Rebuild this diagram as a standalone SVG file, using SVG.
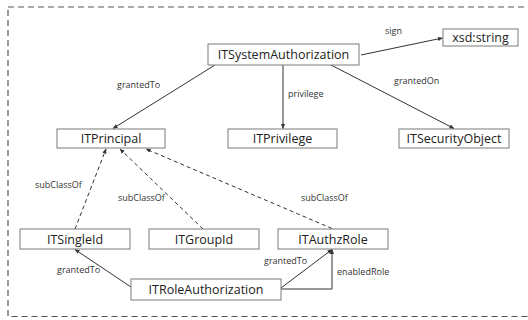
<svg xmlns="http://www.w3.org/2000/svg" width="528" height="320" viewBox="0 0 528 320">
  <style>
    .box { fill: #ffffff; stroke: #7a7a7a; stroke-width: 1; }
    .name { font-family: "Open Sans", "Liberation Sans", sans-serif; font-size: 12.5px; fill: #222; text-anchor: middle; dominant-baseline: central; }
    .lbl { font-family: "Open Sans", "Liberation Sans", sans-serif; font-size: 9px; fill: #333; }
    .edge { fill: none; stroke: #333; stroke-width: 1; marker-end: url(#head); }
    .sub { stroke-dasharray: 4 3; }
    .frame { fill: none; stroke: #555; stroke-width: 1.2; stroke-dasharray: 6 4; }
  </style>
  <defs>
    <marker id="head" viewBox="0 0 6 6" refX="5.5" refY="3" markerWidth="5" markerHeight="5" orient="auto" markerUnits="userSpaceOnUse">
      <path d="M0,0.5 L6,3 L0,5.5 Z" fill="#333"/>
    </marker>
  </defs>
  <rect width="528" height="320" fill="#ffffff"/>
  <rect class="frame" x="8" y="7" width="530" height="309.5"/>

  <g id="connectors">
    <line class="edge" x1="215" y1="65" x2="113" y2="128.5"/>
    <line class="edge" x1="283" y1="65" x2="283" y2="128.5"/>
    <line class="edge" x1="331" y1="65" x2="454" y2="128.5"/>
    <line class="edge" x1="361" y1="55" x2="442.5" y2="38"/>
    <line class="edge sub" x1="75" y1="229" x2="106" y2="149"/>
    <line class="edge sub" x1="203" y1="229" x2="120" y2="149"/>
    <line class="edge sub" x1="332" y1="228.5" x2="146" y2="149"/>
    <line class="edge" x1="131" y1="287" x2="75" y2="249.5"/>
    <line class="edge" x1="281" y1="288" x2="332" y2="249.5"/>
    <polyline class="edge" points="281,289 332,289 332,249.5"/>
    <text class="lbl" x="117" y="88">grantedTo</text>
    <text class="lbl" x="288" y="97">privilege</text>
    <text class="lbl" x="394" y="84">grantedOn</text>
    <text class="lbl" x="385" y="34">sign</text>
    <text class="lbl" x="35" y="188">subClassOf</text>
    <text class="lbl" x="118" y="201">subClassOf</text>
    <text class="lbl" x="301" y="201">subClassOf</text>
    <text class="lbl" x="57" y="273">grantedTo</text>
    <text class="lbl" x="264" y="264">grantedTo</text>
    <text class="lbl" x="337" y="275">enabledRole</text>
  </g>

  <g id="ITSystemAuthorization">
    <rect class="box" x="208" y="44" width="151" height="21"/>
    <text class="name" x="283.5" y="54.5">ITSystemAuthorization</text>
  </g>
  <g id="xsd-string">
    <rect class="box" x="443" y="29" width="75" height="17"/>
    <text class="name" x="480.5" y="37.5">xsd:string</text>
  </g>
  <g id="ITPrincipal">
    <rect class="box" x="57" y="129" width="108" height="19"/>
    <text class="name" x="111" y="138.5">ITPrincipal</text>
  </g>
  <g id="ITPrivilege">
    <rect class="box" x="228" y="129" width="109" height="19"/>
    <text class="name" x="282.5" y="138.5">ITPrivilege</text>
  </g>
  <g id="ITSecurityObject">
    <rect class="box" x="399" y="129" width="110" height="19"/>
    <text class="name" x="454" y="138.5">ITSecurityObject</text>
  </g>
  <g id="ITSingleId">
    <rect class="box" x="20" y="229" width="110" height="20"/>
    <text class="name" x="75" y="239">ITSingleId</text>
  </g>
  <g id="ITGroupId">
    <rect class="box" x="149" y="229" width="110" height="20"/>
    <text class="name" x="204" y="239">ITGroupId</text>
  </g>
  <g id="ITAuthzRole">
    <rect class="box" x="278" y="229" width="110" height="20"/>
    <text class="name" x="333" y="239">ITAuthzRole</text>
  </g>
  <g id="ITRoleAuthorization">
    <rect class="box" x="131" y="279" width="150" height="21"/>
    <text class="name" x="206" y="289.5">ITRoleAuthorization</text>
  </g>
</svg>
